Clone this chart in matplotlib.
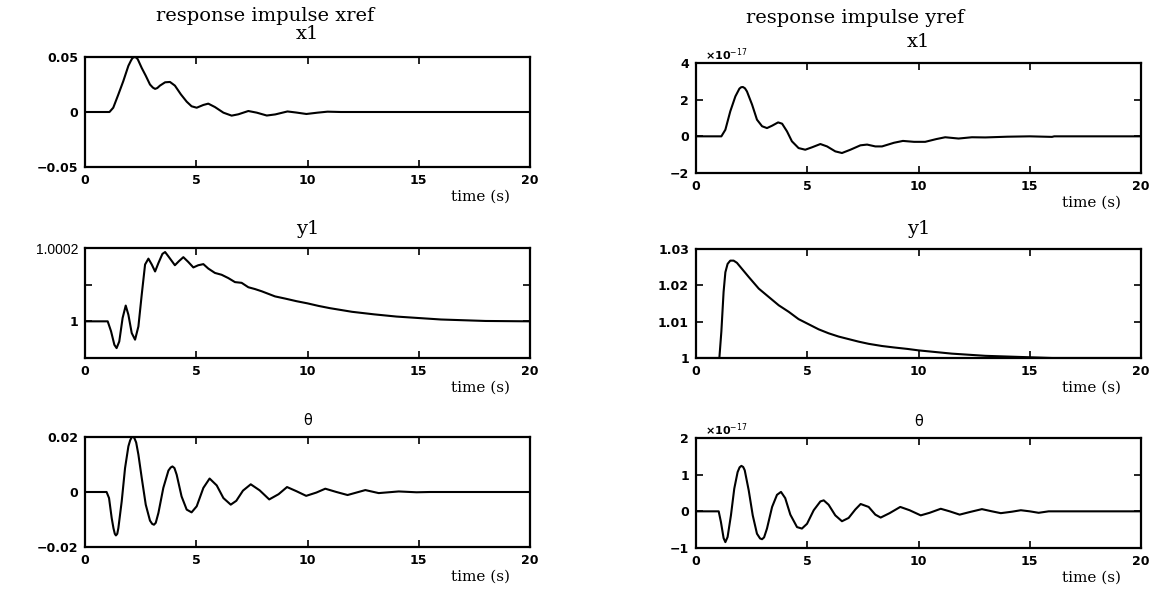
import matplotlib
matplotlib.use('Agg')
import matplotlib.pyplot as plt
from matplotlib.ticker import FixedLocator, FixedFormatter

# impulse on xref: x1, y1, theta
t_x1_xref = [0, 1.1, 1.27, 1.5, 1.72, 1.95, 2.06, 2.13, 2.22, 2.3, 2.37, 2.55, 2.73, 2.92, 3.05, 3.15,
             3.25, 3.37, 3.6, 3.82, 4.04, 4.31, 4.57, 4.79, 5.02, 5.32, 5.54, 5.84, 6.22, 6.59, 6.89,
             7.34, 7.72, 8.17, 8.55, 9.1, 9.5, 9.95, 10.45, 10.9, 11.5, 20]
x1_xref = [0, 0, 0.0039, 0.016, 0.028, 0.042, 0.0465, 0.049, 0.05, 0.0495, 0.048, 0.040, 0.033, 0.025,
           0.0222, 0.021, 0.0218, 0.024, 0.027, 0.0273, 0.024, 0.016, 0.0094, 0.0052, 0.0039, 0.0064,
           0.0076, 0.0045, -0.0006, -0.0033, -0.0021, 0.0009, -0.0006, -0.0032, -0.0022, 0.0005,
           -0.0005, -0.0018, -0.0006, 0.0003, 0, 0]

t_y1_xref = [0, 1.02, 1.17, 1.32, 1.42, 1.54, 1.69, 1.83, 1.95, 2.10, 2.25, 2.40, 2.55, 2.70, 2.85,
             3.00, 3.15, 3.30, 3.48, 3.60, 3.75, 4.04, 4.22, 4.42, 4.64, 4.87, 5.09, 5.32, 5.54, 5.84,
             6.14, 6.44, 6.74, 7.04, 7.34, 7.64, 7.94, 8.24, 8.54, 9.0, 9.5, 10.0, 10.5, 11.0, 11.5,
             12.0, 13.0, 14.0, 15.0, 16.0, 17.0, 18.0, 20]
# y1 - 1, in units of 1e-4
dy1_xref = [0, 0, -0.27, -0.64, -0.73, -0.55, 0.09, 0.43, 0.18, -0.32, -0.5, -0.14, 0.73, 1.55, 1.71,
            1.55, 1.36, 1.59, 1.84, 1.89, 1.77, 1.53, 1.64, 1.75, 1.62, 1.47, 1.53, 1.56, 1.44, 1.32,
            1.27, 1.18, 1.07, 1.05, 0.93, 0.88, 0.82, 0.75, 0.68, 0.62, 0.55, 0.49, 0.42, 0.36, 0.31,
            0.26, 0.19, 0.13, 0.09, 0.05, 0.03, 0.01, 0]

t_th_xref = [0, 0.97, 1.08, 1.2, 1.28, 1.34, 1.39, 1.45, 1.5, 1.65, 1.8, 1.95, 2.03, 2.1, 2.16, 2.22,
             2.3, 2.4, 2.55, 2.73, 2.92, 3.02, 3.1, 3.18, 3.3, 3.52, 3.75, 3.85, 3.93, 4.02, 4.12, 4.34,
             4.57, 4.79, 5.02, 5.32, 5.6, 5.92, 6.22, 6.55, 6.8, 7.1, 7.45, 7.85, 8.28, 8.7, 9.08, 9.5,
             9.94, 10.4, 10.8, 11.3, 11.8, 12.2, 12.6, 13.2, 14.1, 14.9, 15.5, 20]
th_xref = [0, 0, -0.0022, -0.0095, -0.0132, -0.0152, -0.0158, -0.0152, -0.0131, -0.0034, 0.0087,
           0.0166, 0.0188, 0.0199, 0.0201, 0.0196, 0.018, 0.0136, 0.0051, -0.0046, -0.0104, -0.0116,
           -0.0119, -0.0112, -0.0076, 0.0015, 0.0078, 0.0089, 0.0093, 0.0087, 0.0063, -0.0016,
           -0.0064, -0.0074, -0.0052, 0.0015, 0.0049, 0.0024, -0.0022, -0.0046, -0.0032, 0.0005,
           0.0028, 0.0006, -0.0027, -0.0008, 0.0018, 0.0003, -0.0014, -0.0002, 0.0012, 0.0, -0.0011,
           -0.0002, 0.0007, -0.0004, 0.0002, -0.0001, 0, 0]

# impulse on yref: x1 and theta are in units of 1e-17
t_x1_yref = [0, 1.14, 1.32, 1.54, 1.77, 1.95, 2.03, 2.11, 2.2, 2.29, 2.52, 2.74, 2.97, 3.19, 3.42, 3.69,
             3.87, 4.09, 4.31, 4.61, 4.91, 5.21, 5.59, 5.89, 6.26, 6.56, 6.94, 7.39, 7.69, 8.06, 8.36,
             8.9, 9.3, 9.8, 10.3, 10.8, 11.2, 11.8, 12.4, 13.0, 14.0, 15.0, 16.0, 16.1, 20]
x1_yref = [0, 0, 0.36, 1.36, 2.18, 2.6, 2.68, 2.69, 2.62, 2.45, 1.73, 0.91, 0.55, 0.45, 0.58, 0.76,
           0.69, 0.27, -0.27, -0.64, -0.73, -0.6, -0.42, -0.55, -0.82, -0.91, -0.73, -0.49, -0.45,
           -0.55, -0.55, -0.35, -0.25, -0.3, -0.3, -0.15, -0.05, -0.12, -0.05, -0.06, -0.02, 0.0,
           -0.03, 0, 0]

t_y1_yref = [0, 0.95, 1.05, 1.14, 1.24, 1.32, 1.42, 1.54, 1.69, 1.84, 2.07, 2.37, 2.82, 3.27, 3.72,
             4.17, 4.61, 5.06, 5.51, 5.96, 6.41, 6.86, 7.31, 7.76, 8.36, 8.9, 9.5, 10.0, 10.5, 11.0,
             11.5, 12.0, 13.0, 14.0, 15.0, 16.0, 20]
y1_yref = [1, 1, 1.0, 1.0073, 1.0182, 1.0236, 1.0259, 1.0268, 1.0268, 1.0262, 1.0245, 1.0223, 1.0191,
           1.0168, 1.0145, 1.0127, 1.0107, 1.0093, 1.0079, 1.0068, 1.0059, 1.0052, 1.0045, 1.0039,
           1.0033, 1.0029, 1.0025, 1.0021, 1.0018, 1.0015, 1.0012, 1.0010, 1.0006, 1.0004, 1.0002,
           1.0, 1.0]

t_th_yref = [0, 1.02, 1.12, 1.24, 1.32, 1.42, 1.57, 1.72, 1.87, 1.96, 2.04, 2.12, 2.19, 2.37, 2.55,
             2.74, 2.88, 2.97, 3.06, 3.19, 3.42, 3.64, 3.82, 4.01, 4.24, 4.54, 4.76, 4.99, 5.29, 5.59,
             5.74, 5.96, 6.26, 6.56, 6.86, 7.16, 7.4, 7.76, 8.06, 8.3, 8.7, 9.18, 9.6, 10.1, 10.5, 11.0,
             11.4, 11.85, 12.3, 12.85, 13.3, 13.7, 14.2, 14.6, 15.0, 15.4, 15.85, 20]
th_yref = [0, 0, -0.29, -0.73, -0.84, -0.7, -0.11, 0.62, 1.07, 1.2, 1.24, 1.21, 1.12, 0.57, -0.11,
           -0.61, -0.74, -0.76, -0.71, -0.47, 0.12, 0.45, 0.53, 0.36, -0.09, -0.43, -0.47, -0.34, 0.03,
           0.27, 0.3, 0.18, -0.11, -0.27, -0.18, 0.05, 0.2, 0.12, -0.09, -0.17, -0.05, 0.12, 0.03,
           -0.11, -0.04, 0.07, 0.0, -0.09, -0.02, 0.06, 0.0, -0.05, -0.01, 0.03, 0.0, -0.04, 0, 0]

xticks = [0, 5, 10, 15, 20]
W, H = 1161, 590
serif = 'DejaVu Serif'


def box(x0, y0, x1, y1):
    # axes rectangle given in pixel corners
    return [x0 / W, 1 - y1 / H, (x1 - x0) / W, (y1 - y0) / H]


def panel(rect, t, y, ylim, yticks, ylabels, title, title_font, title_dy):
    ax = fig.add_axes(rect)
    ax.plot(t, y, c='k', lw=1.5, solid_joinstyle='round')
    ax.set_xlim(0, 20)
    ax.set_ylim(*ylim)
    ax.xaxis.set_major_locator(FixedLocator(xticks))
    ax.xaxis.set_major_formatter(FixedFormatter([str(v) for v in xticks]))
    ax.yaxis.set_major_locator(FixedLocator(yticks))
    ax.yaxis.set_major_formatter(FixedFormatter(ylabels))
    ax.tick_params(direction='in', length=5, width=1.2, top=True, right=True, pad=5)
    for lab in ax.get_xticklabels() + ax.get_yticklabels():
        lab.set_fontfamily('DejaVu Sans')
        lab.set_fontweight('bold')
        lab.set_fontsize(9)
    for s in ax.spines.values():
        s.set_linewidth(1.6)
    ax.text(0.5, 1 + title_dy, title, transform=ax.transAxes, ha='center', va='center', **title_font)
    ax.set_xlabel('time (s)', family=serif, fontsize=11, loc='right')
    ax.xaxis.set_label_coords(0.955, -0.21)
    return ax


fig = plt.figure(figsize=(W / 100, H / 100), dpi=100)
fig.patch.set_facecolor('white')

big = dict(family=serif, fontsize=14)
small = dict(family='DejaVu Sans', fontsize=10.5)

# left column: xref
ax = panel(box(85, 57, 530, 167), t_x1_xref, x1_xref, (-0.05, 0.05), [-0.05, 0, 0.05],
           ['\u22120.05', '0', '0.05'], 'x1', big, 0.21)
fig.text(265 / W, 1 - 16 / H, 'response impulse xref', ha='center', va='center', **big)

ax = panel(box(85, 248, 530, 358), t_y1_xref, [1 + d * 1e-4 for d in dy1_xref],
           (0.9999, 1.0002), [1.0, 1.0001, 1.0002], ['1', '', '1.0002'], 'y1', big, 0.17)
lab = ax.get_yticklabels()[2]
lab.set_fontfamily('Liberation Sans')
lab.set_fontweight('normal')
lab.set_fontsize(10)

panel(box(85, 437, 530, 547), t_th_xref, th_xref, (-0.02, 0.02), [-0.02, 0, 0.02],
      ['\u22120.02', '0', '0.02'], '\u03b8', small, 0.15)

# right column: yref, values scaled by 1e-17
ax = panel(box(696, 63, 1141, 173), t_x1_yref, x1_yref, (-2, 4), [-2, 0, 2, 4],
           ['\u22122', '0', '2', '4'], 'x1', big, 0.19)
ax.text(0.02, 1.0, '\u00d710$^{-17}$', transform=ax.transAxes, ha='left', va='bottom',
        family='DejaVu Sans', fontweight='bold', fontsize=8)
fig.text(855 / W, 1 - 18 / H, 'response impulse yref', ha='center', va='center', **big)

panel(box(696, 249, 1141, 358), t_y1_yref, y1_yref, (1.0, 1.03), [1.0, 1.01, 1.02, 1.03],
      ['1', '1.01', '1.02', '1.03'], 'y1', big, 0.18)

ax = panel(box(696, 438, 1141, 548), t_th_yref, th_yref, (-1, 2), [-1, 0, 1, 2],
           ['\u22121', '0', '1', '2'], '\u03b8', small, 0.15)
ax.text(0.02, 1.0, '\u00d710$^{-17}$', transform=ax.transAxes, ha='left', va='bottom',
        family='DejaVu Sans', fontweight='bold', fontsize=8)

fig.savefig('out.png', dpi=100)
